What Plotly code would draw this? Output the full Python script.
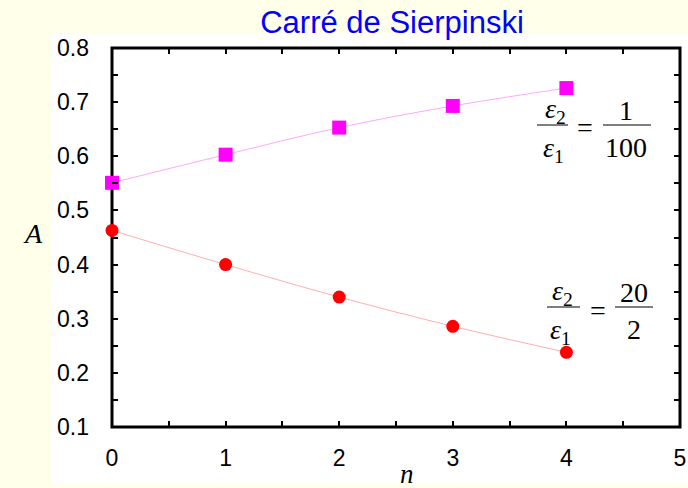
import plotly.graph_objects as go

# ---- data -------------------------------------------------------------
n_values = [0, 1, 2, 3, 4]
a_ratio_1_100 = [0.551, 0.603, 0.653, 0.693, 0.726]   # eps2/eps1 = 1/100
a_ratio_20_2 = [0.463, 0.400, 0.340, 0.286, 0.238]    # eps2/eps1 = 20/2

x_tick_vals = [i * 0.5 for i in range(11)]
x_tick_text = ["0", "", "1", "", "2", "", "3", "", "4", "", "5"]
y_tick_vals = [round(0.1 + i * 0.05, 2) for i in range(15)]
y_tick_text = [("%.1f" % v) if i % 2 == 0 else "" for i, v in enumerate(y_tick_vals)]

# ---- geometry ---------------------------------------------------------
W, H = 688, 488
ML, MR, MT, MB = 112, 8, 48, 61
PW, PH = W - ML - MR, H - MT - MB


def px(x):
    """figure pixel column -> paper x"""
    return (x - ML) / PW


def py(y):
    """figure pixel row -> paper y"""
    return (H - MB - y) / PH


SANS = "Liberation Sans, Arial, sans-serif"
SERIF = "Liberation Serif, Times New Roman, serif"

fig = go.Figure()

fig.add_trace(go.Scatter(
    x=n_values, y=a_ratio_1_100, mode="lines+markers",
    line=dict(color="rgba(255,150,255,0.85)", width=1, shape="spline"),
    marker=dict(symbol="square", size=14, color="#FF00FF"),
    cliponaxis=False, showlegend=False,
))
fig.add_trace(go.Scatter(
    x=n_values, y=a_ratio_20_2, mode="lines+markers",
    line=dict(color="rgba(255,160,160,0.85)", width=1, shape="spline"),
    marker=dict(symbol="circle", size=13, color="#FF0000"),
    cliponaxis=False, showlegend=False,
))

axis_common = dict(
    showgrid=False, zeroline=False, showline=False,
    mirror="ticks", ticks="inside", ticklen=6, tickwidth=2,
    tickcolor="black", automargin=False,
    tickfont=dict(family=SANS, size=23, color="black"),
)

fig.update_xaxes(range=[0, 5], tickmode="array", tickvals=x_tick_vals,
                 ticktext=x_tick_text, ticklabelstandoff=15, **axis_common)
fig.update_yaxes(range=[0.1, 0.8], tickmode="array", tickvals=y_tick_vals,
                 ticktext=y_tick_text, ticklabelstandoff=22, **axis_common)

shapes = [
    # white panel behind the plot
    dict(type="rect", xref="paper", yref="paper", layer="below",
         x0=px(52), x1=px(700), y0=py(483), y1=py(33),
         fillcolor="white", line=dict(width=0)),
    # heavy frame around the plotting area
    dict(type="rect", xref="paper", yref="paper", layer="below",
         x0=0, x1=1, y0=0, y1=1,
         line=dict(color="black", width=3)),
]

annotations = []


def text(x, y, s, size=28, family=SERIF, xanchor="center", yanchor="middle"):
    annotations.append(dict(
        xref="paper", yref="paper", x=px(x), y=py(y), text=s,
        showarrow=False, xanchor=xanchor, yanchor=yanchor,
        font=dict(family=family, size=size, color="black")))


def bar(x0, x1, y):
    shapes.append(dict(type="line", xref="paper", yref="paper",
                       x0=px(x0), x1=px(x1), y0=py(y), y1=py(y),
                       line=dict(color="#555555", width=1.5)))


def fraction(eps_x, eq_x, num_x, bar_y, num, den, eps_bar, num_bar):
    text(eps_x, bar_y - 15, "<i>ε</i><sub>2</sub>")
    bar(*eps_bar, bar_y)
    text(eps_x - 2, bar_y + 24, "<i>ε</i><sub>1</sub>")
    text(eq_x, bar_y + 3, "=")
    text(num_x, bar_y - 15, num)
    bar(*num_bar, bar_y)
    text(num_x, bar_y + 22, den)


fraction(555, 585, 626, 125, "1", "100", (537, 568), (603, 651))
fraction(562, 598, 634, 307, "20", "2", (547, 580), (615, 653))

# axis titles
text(33, 233, "<i>A</i>", size=28)
text(407, 474, "<i>n</i>", size=27)

fig.update_layout(
    width=W, height=H,
    margin=dict(l=ML, r=MR, t=MT, b=MB),
    paper_bgcolor="#FFFFEA", plot_bgcolor="white",
    title=dict(text="Carré de Sierpinski", x=392 / W, xanchor="center",
               xref="container", y=1 - 22 / H, yanchor="middle",
               yref="container",
               font=dict(family=SANS, size=31, color="#0000FF")),
    shapes=shapes, annotations=annotations,
)

fig.write_html("out.html")
